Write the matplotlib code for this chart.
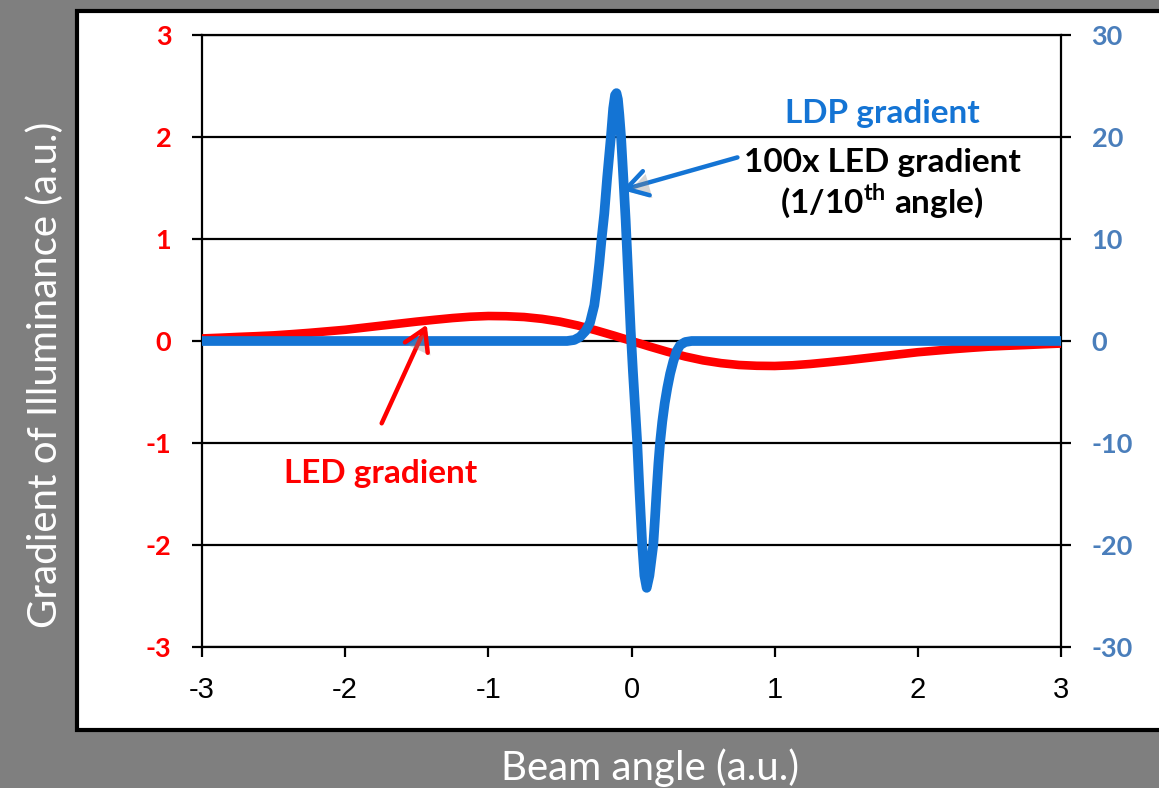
import matplotlib
matplotlib.use("Agg")
import matplotlib.pyplot as plt
import matplotlib.patheffects as pe
from matplotlib.patches import Rectangle

W, H, DPI = 1159, 788, 100

# LED gradient (left axis, a.u.)
led_angle = [-3.0, -2.875, -2.75, -2.625, -2.5, -2.375, -2.25, -2.125, -2.0,
             -1.875, -1.75, -1.625, -1.5, -1.375, -1.25, -1.125, -1.0,
             -0.875, -0.75, -0.625, -0.5, -0.375, -0.25, -0.125, 0.0,
             0.125, 0.25, 0.375, 0.5, 0.625, 0.75, 0.875, 1.0, 1.125, 1.25,
             1.375, 1.5, 1.625, 1.75, 1.875, 2.0, 2.125, 2.25, 2.375, 2.5,
             2.625, 2.75, 2.875, 3.0]
led_grad = [0.025, 0.032, 0.04, 0.047, 0.055, 0.067, 0.08, 0.095, 0.11,
            0.13, 0.15, 0.17, 0.19, 0.208, 0.225, 0.238, 0.245, 0.243,
            0.235, 0.217, 0.19, 0.152, 0.105, 0.054, 0.0,
            -0.054, -0.105, -0.152, -0.19, -0.217, -0.235, -0.243, -0.245,
            -0.238, -0.225, -0.208, -0.19, -0.17, -0.15, -0.13, -0.11,
            -0.095, -0.08, -0.067, -0.055, -0.047, -0.04, -0.032, -0.025]

# LDP gradient (right axis, a.u.)
ldp_angle = [-3.0, -0.45, -0.40, -0.36, -0.32, -0.29, -0.26, -0.243, -0.225,
             -0.209, -0.19, -0.17, -0.144, -0.128, -0.115, -0.105, -0.095,
             -0.085, -0.073, -0.057, -0.041, -0.025, -0.006, 0.01, 0.025,
             0.04, 0.055, 0.075, 0.09, 0.106, 0.125, 0.152, 0.164, 0.176,
             0.188, 0.2, 0.215, 0.232, 0.25, 0.27, 0.292, 0.315, 0.34, 0.375,
             0.42, 3.0]
ldp_grad = [0.0, 0.0, 0.1, 0.4, 1.0, 1.8, 3.5, 5.3, 7.6, 10.0, 12.5, 16.0,
            20.0, 22.8, 24.1, 24.3, 23.7, 22.2, 20.0, 16.0, 11.9, 7.0, 1.1,
            -3.0, -6.5, -10.0, -14.5, -20.0, -23.0, -24.2, -23.0, -20.0,
            -17.4, -14.6, -12.0, -9.9, -7.9, -6.1, -4.6, -3.2, -2.0, -1.0,
            -0.4, -0.1, 0.0, 0.0]

x_ticks = [-3, -2, -1, 0, 1, 2, 3]
x_labels = ["-3", "-2", "-1", "0", "1", "2", "3"]
left_ticks = [-3, -2, -1, 0, 1, 2, 3]
left_labels = ["-3", "-2", "-1", "0", "1", "2", "3"]
right_ticks = [-30, -20, -10, 0, 10, 20, 30]
right_labels = ["-30", "-20", "-10", "0", "10", "20", "30"]

RED = "#ff0000"
BLUE = "#1474d4"
STEEL = "#4a7ebb"
GRAY = "#7f7f7f"

plt.rcParams["mathtext.fontset"] = "custom"
plt.rcParams["mathtext.bf"] = "Lato:bold"
plt.rcParams["mathtext.rm"] = "Lato:bold"

fig = plt.figure(figsize=(W / DPI, H / DPI), dpi=DPI, facecolor=GRAY)

# white slide panel with black frame, kept behind the axes
panel = Rectangle((77 / W, 1 - 729.5 / H), (1175 - 77) / W, (729.5 - 10.5) / H,
                  transform=fig.transFigure, facecolor="white",
                  edgecolor="black", lw=3, zorder=-10)
fig.patches.append(panel)

ax = fig.add_axes([202 / W, 1 - 647 / H, (1061 - 202) / W, (647 - 35) / H])
ax.set_facecolor("none")
ax.set_xlim(-3, 3)
ax.set_ylim(-3, 3)
for s in ax.spines.values():
    s.set_color("black")
    s.set_linewidth(1.6)

ax.set_xticks(x_ticks)
ax.set_xticklabels(x_labels, family="Liberation Sans", fontsize=21,
                   color="black")
ax.set_yticks(left_ticks)
ax.set_yticklabels(left_labels, family="Lato", fontweight="bold",
                   fontsize=19.5, color=RED)
ax.tick_params(axis="x", direction="out", length=7, width=1.6, pad=14)
ax.tick_params(axis="y", direction="out", length=7, width=1.6, pad=15)
ax.grid(axis="y", color="black", lw=1.6)
ax.set_axisbelow(True)

ax.plot(led_angle, led_grad, color=RED, lw=6.2, solid_capstyle="round",
        solid_joinstyle="round", zorder=3)

ax2 = ax.twinx()
ax2.set_ylim(-30, 30)
for s in ax2.spines.values():
    s.set_visible(False)
ax2.set_yticks(right_ticks)
ax2.set_yticklabels(right_labels, family="Lato", fontweight="bold",
                    fontsize=19.5, color=STEEL)
ax2.tick_params(axis="y", direction="out", length=7, width=1.6, pad=15)

ax2.plot(ldp_angle, ldp_grad, color=BLUE, lw=7.0, solid_capstyle="round",
         solid_joinstyle="round", zorder=3)

shadow = [pe.SimplePatchShadow(offset=(2, -2), shadow_rgbFace="#888888",
                               alpha=0.35), pe.Normal()]

# callout arrows
ax2.annotate("", xy=(-0.066, 14.8), xytext=(0.74, 18.0),
             arrowprops=dict(arrowstyle="->,head_length=0.75,head_width=0.45",
                             color=BLUE, lw=3.2, mutation_scale=20,
                             shrinkA=0, shrinkB=0, capstyle="round",
                             path_effects=shadow), zorder=5)
ax2.annotate("", xy=(-1.43, 1.6), xytext=(-1.745, -8.07),
             arrowprops=dict(arrowstyle="->,head_length=0.75,head_width=0.45",
                             color=RED, lw=3.2, mutation_scale=20,
                             shrinkA=0, shrinkB=0, capstyle="round",
                             path_effects=shadow), zorder=5)

# annotation texts
txt = dict(family="Lato", fontweight="bold", fontsize=24, ha="center",
           va="baseline")
ax.text(1.75, 2.137, "LDP gradient", color=BLUE, **txt)
ax.text(1.75, 1.657, "100x LED gradient", color="black", **txt)
ax.text(1.75, 1.255, r"(1/10$^{\mathbf{th}}$ angle)", color="black", **txt)
ax.text(-1.75, -1.392, "LED gradient", color=RED, **txt)

# axis titles on the grey surround
fig.text(45 / W, 1 - 375 / H, "Gradient of Illuminance (a.u.)", rotation=90,
         ha="center", va="center", color="white", family="Lato",
         fontsize=29)
fig.text(650 / W, 1 - 768 / H, "Beam angle (a.u.)", ha="center",
         va="center", color="white", family="Lato", fontsize=29)

fig.savefig("out.png", dpi=DPI, facecolor=GRAY)
